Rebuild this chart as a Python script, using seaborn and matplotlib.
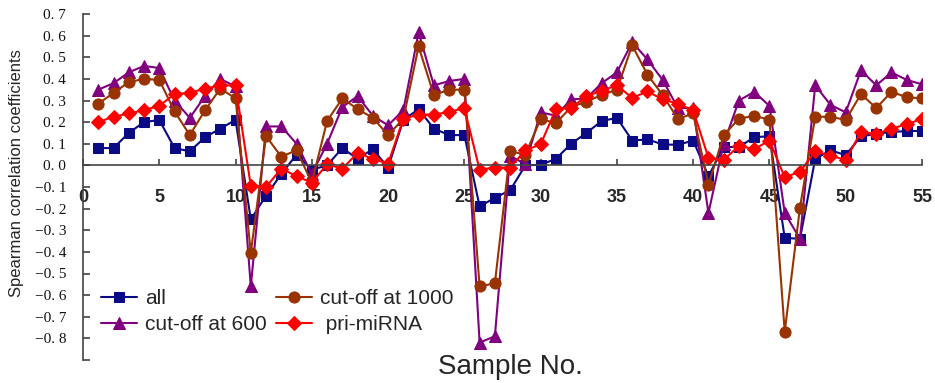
import numpy as np
import pandas as pd
import matplotlib
matplotlib.use("Agg")
import matplotlib.pyplot as plt
import seaborn as sns

samples = list(range(1, 56))

all_vals = [0.08, 0.08, 0.15, 0.20, 0.21, 0.08, 0.065, 0.13, 0.17, 0.21,
            -0.25, -0.14, -0.04, 0.05, -0.02, 0.00, 0.08, 0.03, 0.075, -0.01,
            0.21, 0.26, 0.17, 0.14, 0.14, -0.19, -0.15, -0.115, 0.00, 0.003,
            0.03, 0.10, 0.15, 0.205, 0.22, 0.115, 0.12, 0.097, 0.095, 0.115,
            -0.05, 0.085, 0.085, 0.13, 0.135, -0.335, -0.34, 0.03, 0.07, 0.047,
            0.135, 0.145, 0.155, 0.158, 0.16]

cut600 = [0.35, 0.38, 0.43, 0.46, 0.45, 0.30, 0.22, 0.32, 0.40, 0.365,
          -0.56, 0.18, 0.18, 0.10, -0.04, 0.10, 0.27, 0.32, 0.23, 0.185,
          0.255, 0.615, 0.37, 0.39, 0.40, -0.82, -0.79, 0.045, 0.005, 0.245,
          0.23, 0.305, 0.31, 0.38, 0.43, 0.57, 0.49, 0.395, 0.265, 0.265,
          -0.22, 0.10, 0.30, 0.34, 0.275, -0.22, -0.34, 0.37, 0.28, 0.245,
          0.44, 0.37, 0.43, 0.395, 0.375]

cut1000 = [0.285, 0.335, 0.385, 0.40, 0.395, 0.25, 0.14, 0.255, 0.355, 0.31,
           -0.405, 0.135, 0.04, 0.07, -0.08, 0.205, 0.31, 0.26, 0.22, 0.14,
           0.215, 0.55, 0.325, 0.35, 0.35, -0.56, -0.545, 0.065, 0.05, 0.215,
           0.195, 0.27, 0.295, 0.325, 0.35, 0.555, 0.42, 0.325, 0.215, 0.24,
           -0.09, 0.14, 0.215, 0.23, 0.21, -0.77, -0.195, 0.225, 0.225, 0.21,
           0.33, 0.265, 0.34, 0.315, 0.31]

pri = [0.20, 0.225, 0.24, 0.255, 0.275, 0.33, 0.335, 0.355, 0.37, 0.37,
       -0.095, -0.10, -0.015, -0.05, -0.08, 0.005, -0.015, 0.057, 0.03, 0.008,
       0.215, 0.235, 0.235, 0.247, 0.265, -0.02, -0.01, -0.01, 0.07, 0.097,
       0.26, 0.267, 0.32, 0.345, 0.37, 0.312, 0.342, 0.305, 0.285, 0.255,
       0.035, 0.025, 0.09, 0.075, 0.115, -0.055, -0.03, 0.065, 0.045, 0.025,
       0.155, 0.145, 0.17, 0.19, 0.215]

series_names = ["all", "cut-off at 600", "cut-off at 1000", " pri-miRNA"]
series_vals = [all_vals, cut600, cut1000, pri]
colors = ["#0A0A85", "#800080", "#993300", "#FF0000"]
markers = ["s", "^", "o", "D"]
msizes = [7, 9, 8, 7]

y_ticks = [round(v, 1) for v in np.arange(-0.9, 0.75, 0.1)]
x_ticks = [0, 5, 10, 15, 20, 25, 30, 35, 40, 45, 50, 55]

sns.set_style("white")
plt.rcParams['font.family'] = ['Liberation Sans', 'DejaVu Sans']

fig = plt.figure(figsize=(9.35, 3.83), dpi=100)
ax = fig.add_axes([83/935, 1 - 360/383, (922-83)/935, (360-14)/383])

for name, vals, c, m, ms in zip(series_names, series_vals, colors, markers, msizes):
    df = pd.DataFrame({"Sample": samples, "value": vals})
    sns.lineplot(data=df, x="Sample", y="value", ax=ax, color=c, marker=m,
                 markersize=ms, markeredgecolor=c, linewidth=1.5, label=name)

ax.set_xlim(0, 55)
ax.set_ylim(-0.9, 0.7)
ax.spines['top'].set_visible(False)
ax.spines['right'].set_visible(False)
ax.spines['bottom'].set_position(('data', 0))
for s in ['left', 'bottom']:
    ax.spines[s].set_color('#444444')
    ax.spines[s].set_linewidth(1.2)

ax.set_yticks(y_ticks)
ylabels = ["" if abs(v + 0.9) < 1e-9 else ("\u22120. %d" % round(-v*10) if v < -1e-9 else "0. %d" % round(v*10)) for v in y_ticks]
ax.set_yticklabels(ylabels, fontfamily='Liberation Serif', fontsize=11, color='#111111')
ax.tick_params(axis='y', direction='in', length=5, width=1.2, color='#444444', pad=12, left=True)

ax.set_xticks(x_ticks)
ax.set_xticklabels([str(v) for v in x_ticks], fontweight='bold', fontsize=13)
ax.tick_params(axis='x', direction='in', length=4, width=1.2, color='#444444', pad=17, bottom=True)

ax.set_xlabel("")
ax.set_ylabel("")
fig.text(17/935, 1 - 173/383, "Spearman correlation coefficients", rotation=90,
         ha='center', va='center', fontsize=12)
fig.text(510/935, 1 - 367/383, "Sample No.", ha='center', va='center', fontsize=20)

ax.legend(loc='lower left', bbox_to_anchor=(0.012, 0.05), ncol=2, frameon=False,
          fontsize=15, handlelength=1.7, handletextpad=0.4, columnspacing=0.45,
          labelspacing=0.33, borderaxespad=0)

fig.savefig("out.png", dpi=100)
